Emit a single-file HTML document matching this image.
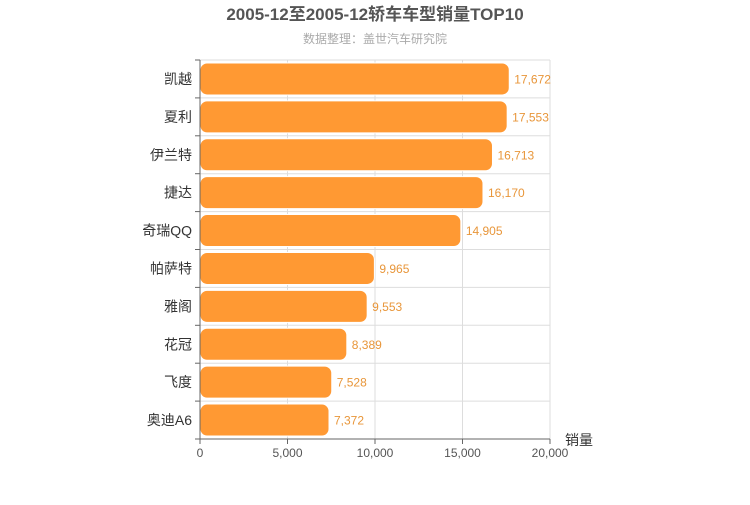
<!DOCTYPE html>
<html><head><meta charset="utf-8"><style>
body{margin:0;background:#fff;font-family:"Liberation Sans","Noto Sans CJK SC",sans-serif;}
</style></head><body>
<svg id="c" width="750" height="500" xmlns="http://www.w3.org/2000/svg" style="font-family:'Liberation Sans','Noto Sans CJK SC',sans-serif">
<text x="375" y="20" text-anchor="middle" font-size="17" font-weight="bold" fill="#555">2005-12至2005-12轿车车型销量TOP10</text>
<text x="375" y="43" text-anchor="middle" font-size="12" fill="#aaa">数据整理：盖世汽车研究院</text>
<g id="g"></g>
</svg>
<script>
const categories=["凯越","夏利","伊兰特","捷达","奇瑞QQ","帕萨特","雅阁","花冠","飞度","奥迪A6"];
const sales=[17672,17553,16713,16170,14905,9965,9553,8389,7528,7372];
const xTicks=[0,5000,10000,15000,20000];
const X0=200,X1=550,Y0=60,Y1=439,XMAX=20000;
const NS="http://www.w3.org/2000/svg";
const g=document.getElementById('g');
const x=v=>X0+(X1-X0)*v/XMAX;
const band=(Y1-Y0)/categories.length;
const y=i=>Y0+band*i;
function mk(t,a,txt){const e=document.createElementNS(NS,t);for(const k in a)e.setAttribute(k,a[k]);if(txt!=null)e.textContent=txt;g.appendChild(e);return e;}
const fmt=v=>v.toLocaleString('en-US');
for(let i=0;i<=categories.length;i++){
 const l=mk('line',{x1:X0,x2:X1,y1:y(i),y2:y(i),stroke:'#ddd'});
 
 
}
xTicks.forEach(t=>{
 if(t>0){const l=mk('line',{x1:x(t),x2:x(t),y1:Y0,y2:Y1,stroke:'#ddd'});
 
 }
 const tk=mk('line',{x1:x(t),x2:x(t),y1:Y1,y2:Y1+5,stroke:'#666'});
 
 
 const tl=mk('text',{x:x(t),y:Y1+18,'text-anchor':'middle','font-size':12,fill:'#555'},fmt(t));
 
 
});
categories.forEach((c,i)=>{
 const cy=y(i)+band/2;
 const r=mk('rect',{x:X0,y:cy-16,width:x(sales[i])-X0,height:32,rx:7,fill:'#ff9933',stroke:'#fff','stroke-width':1});
 
 
 const v=mk('text',{x:x(sales[i])+5,y:cy+4.5,'font-size':12,fill:'#e8963a'},fmt(sales[i]));
 
 
 const l=mk('text',{x:X0-8,y:cy+5,'text-anchor':'end','font-size':14,fill:'#333'},c);
 
 
 const tk=mk('line',{x1:X0-5,x2:X0,y1:y(i),y2:y(i),stroke:'#666'});
 
 
});
const tk=mk('line',{x1:X0-5,x2:X0,y1:Y1,y2:Y1,stroke:'#666'});


const ya=mk('line',{x1:X0,x2:X0,y1:Y0,y2:Y1,stroke:'#666'});


const xa=mk('line',{x1:X0,x2:X1,y1:Y1,y2:Y1,stroke:'#666'});


const at=mk('text',{x:565,y:445,'font-size':14,fill:'#333'},'销量');


</script>
</body></html>
